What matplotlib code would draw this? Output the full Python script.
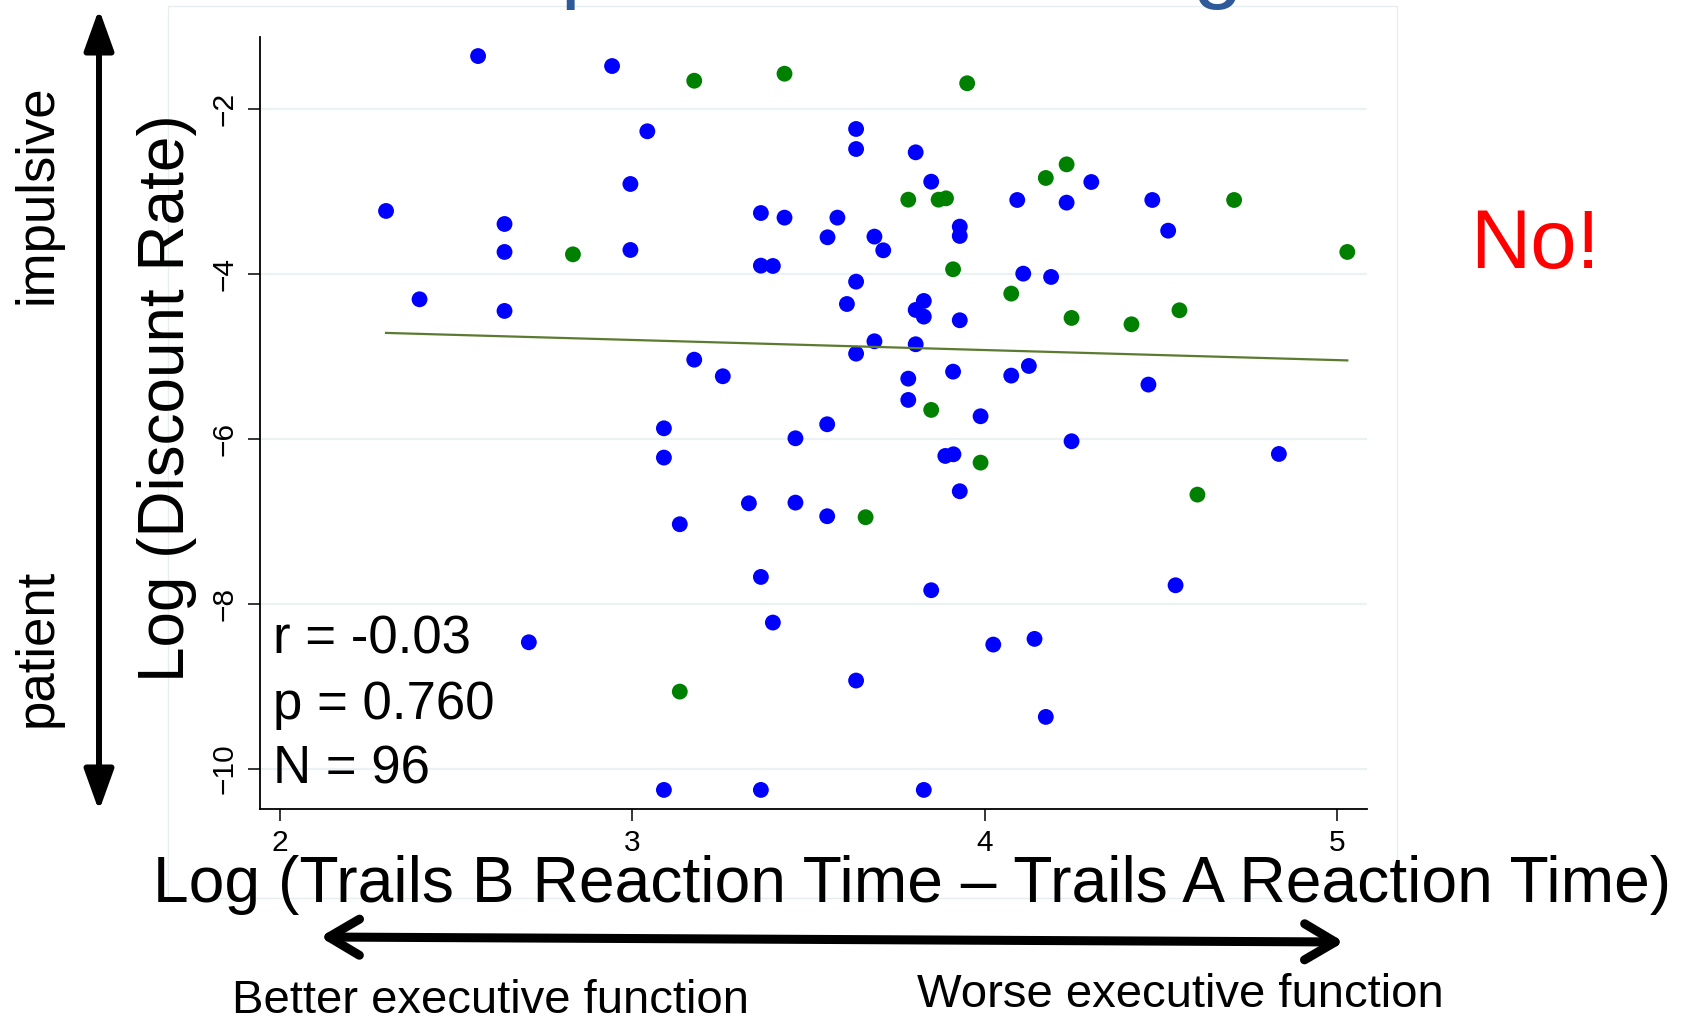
import numpy as np
import matplotlib
matplotlib.use("Agg")
import matplotlib.pyplot as plt
from matplotlib.patches import FancyArrowPatch, Rectangle, ArrowStyle

plt.rcParams['font.family'] = ['Liberation Sans', 'DejaVu Sans']

# Participants shown in blue
blue_x = [2.563, 2.943, 2.302, 2.638, 2.638, 2.397, 2.638,
          3.043, 3.635, 3.635, 3.804, 2.995, 3.848,
          3.365, 3.432, 3.582, 3.554, 3.687, 3.712, 3.929, 3.929, 2.995, 3.365, 3.399,
          3.635, 3.609, 3.827, 3.804, 3.827, 3.929, 3.687, 3.804, 3.635, 3.176, 3.257,
          3.783, 3.910, 3.783, 3.988,
          4.302, 4.092, 4.232, 4.475, 4.520, 4.109, 4.188, 4.075, 4.125, 4.464,
          2.707,
          3.090, 3.553, 3.463, 3.090, 3.888, 3.911, 3.929, 3.135, 3.331, 3.463,
          3.553, 3.365, 3.848, 3.399, 3.635, 3.090, 3.365, 3.827,
          4.246, 4.834, 4.541, 4.024, 4.141, 4.173]
blue_y = [-1.358, -1.479, -3.236, -3.394, -3.733, -4.307, -4.448,
          -2.270, -2.242, -2.485, -2.525, -2.909, -2.881,
          -3.261, -3.317, -3.317, -3.555, -3.547, -3.713, -3.426, -3.539, -3.709, -3.899, -3.903,
          -4.093, -4.364, -4.327, -4.436, -4.517, -4.561, -4.816, -4.852, -4.966, -5.039, -5.240,
          -5.269, -5.184, -5.527, -5.725,
          -2.885, -3.103, -3.135, -3.103, -3.475, -3.996, -4.036, -5.232, -5.115, -5.341,
          -8.465,
          -5.871, -5.822, -5.992, -6.226, -6.206, -6.186, -6.634, -7.034, -6.780, -6.772,
          -6.937, -7.673, -7.834, -8.226, -8.929, -10.255, -10.255, -10.255,
          -6.028, -6.182, -7.774, -8.493, -8.424, -9.370]

# Participants shown in green
green_x = [2.832, 3.176, 3.432, 3.950, 3.783, 3.869, 3.890, 3.910, 3.848,
           4.232, 4.173, 4.707, 5.028, 4.075, 4.246, 4.416, 4.552,
           3.988, 3.662, 3.135, 4.603]
green_y = [-3.762, -1.657, -1.572, -1.688, -3.099, -3.099, -3.083, -3.943, -5.648,
           -2.671, -2.836, -3.103, -3.733, -4.238, -4.533, -4.610, -4.440,
           -6.287, -6.949, -9.063, -6.675]

x_ticks = [2, 3, 4, 5]
y_ticks = [-10, -8, -6, -4, -2]
stats_lines = ["r = -0.03", "p = 0.760", "N = 96"]

W, H = 1683, 1017
fig = plt.figure(figsize=(W / 100, H / 100), dpi=100)


def fx(px):
    return px / W


def fy(py):
    return 1 - py / H


# faint outer graph-region frame
fig.add_artist(Rectangle((fx(168), fy(898)), (1397 - 168) / W, (898 - 6) / H,
                         transform=fig.transFigure, fill=False,
                         ec='#E6EEF2', lw=1.0, zorder=0))

left, right, top, bottom = 259.8, 1367.4, 37, 809.3
ax = fig.add_axes([fx(left), fy(bottom), (right - left) / W, (bottom - top) / H])
ax.set_xlim(1.944, 5.085)
ax.set_ylim(-10.49, -1.127)

ax.set_yticks(y_ticks)
ax.set_xticks(x_ticks)
ax.yaxis.grid(True, color='#EAF2F3', lw=1.6, zorder=0)
ax.set_axisbelow(True)
for s in ['top', 'right']:
    ax.spines[s].set_visible(False)
for s in ['left', 'bottom']:
    ax.spines[s].set_linewidth(1.3)
ax.tick_params(axis='both', direction='out', length=8.6, width=1.1,
               labelsize=21.5, colors='black')
ax.tick_params(axis='x', pad=5.5)
ax.tick_params(axis='y', pad=7, labelrotation=90)
for lab in ax.get_yticklabels():
    lab.set_va('center')

ax.scatter(blue_x, blue_y, s=130, color='#0000FF', edgecolors='none', zorder=3)
ax.scatter(green_x, green_y, s=130, color='#008000', edgecolors='none', zorder=3)

# linear fit over the observed range
all_x = np.array(blue_x + green_x)
all_y = np.array(blue_y + green_y)
slope, intercept = np.polyfit(all_x, all_y, 1)
xx = np.array([all_x.min(), all_x.max()])
ax.plot(xx, slope * xx + intercept, color='#5B7B30', lw=1.6, zorder=4)

for i, line in enumerate(stats_lines):
    fig.text(fx(273), fy(654 + 64.5 * i), line, fontsize=38,
             ha='left', va='baseline')

# axis titles
fig.text(fx(184), fy(398), "Log (Discount Rate)", fontsize=46, rotation=90,
         rotation_mode='anchor', ha='center', va='baseline')
fig.text(fx(912), fy(902), "Log (Trails B Reaction Time \u2013 Trails A Reaction Time)",
         fontsize=46.2, ha='center', va='baseline')

# slide annotations
fig.text(fx(1535), fy(268), "No!", fontsize=60, color='#FF0000',
         ha='center', va='baseline')
fig.text(fx(52), fy(194), "impulsive", fontsize=38, rotation=90,
         rotation_mode='anchor', ha='center', va='baseline')
fig.text(fx(52), fy(648), "patient", fontsize=38, rotation=90,
         rotation_mode='anchor', ha='center', va='baseline')
fig.text(fx(491), fy(1013), "Better executive function", fontsize=34,
         ha='center', va='baseline')
fig.text(fx(1180), fy(1007), "Worse executive function", fontsize=34,
         ha='center', va='baseline')

# slide title sitting above the visible area
fig.text(fx(390), fy(-9), "Temporal discounting", fontsize=65, color='#2E5A9A',
         ha='left', va='baseline')

# double-headed arrows
fig.add_artist(FancyArrowPatch((fx(99), fy(811)), (fx(99), fy(9)),
                               transform=fig.transFigure,
                               arrowstyle=ArrowStyle('<|-|>', head_length=25, head_width=9),
                               mutation_scale=1, lw=4.3, color='black',
                               shrinkA=0, shrinkB=0))
fig.add_artist(FancyArrowPatch((fx(320), fy(937)), (fx(1344), fy(942)),
                               transform=fig.transFigure,
                               arrowstyle=ArrowStyle('<->', head_length=22, head_width=13),
                               mutation_scale=1, lw=6.5, color='black',
                               shrinkA=0, shrinkB=0))

fig.savefig("out.png", dpi=100, facecolor='white')
